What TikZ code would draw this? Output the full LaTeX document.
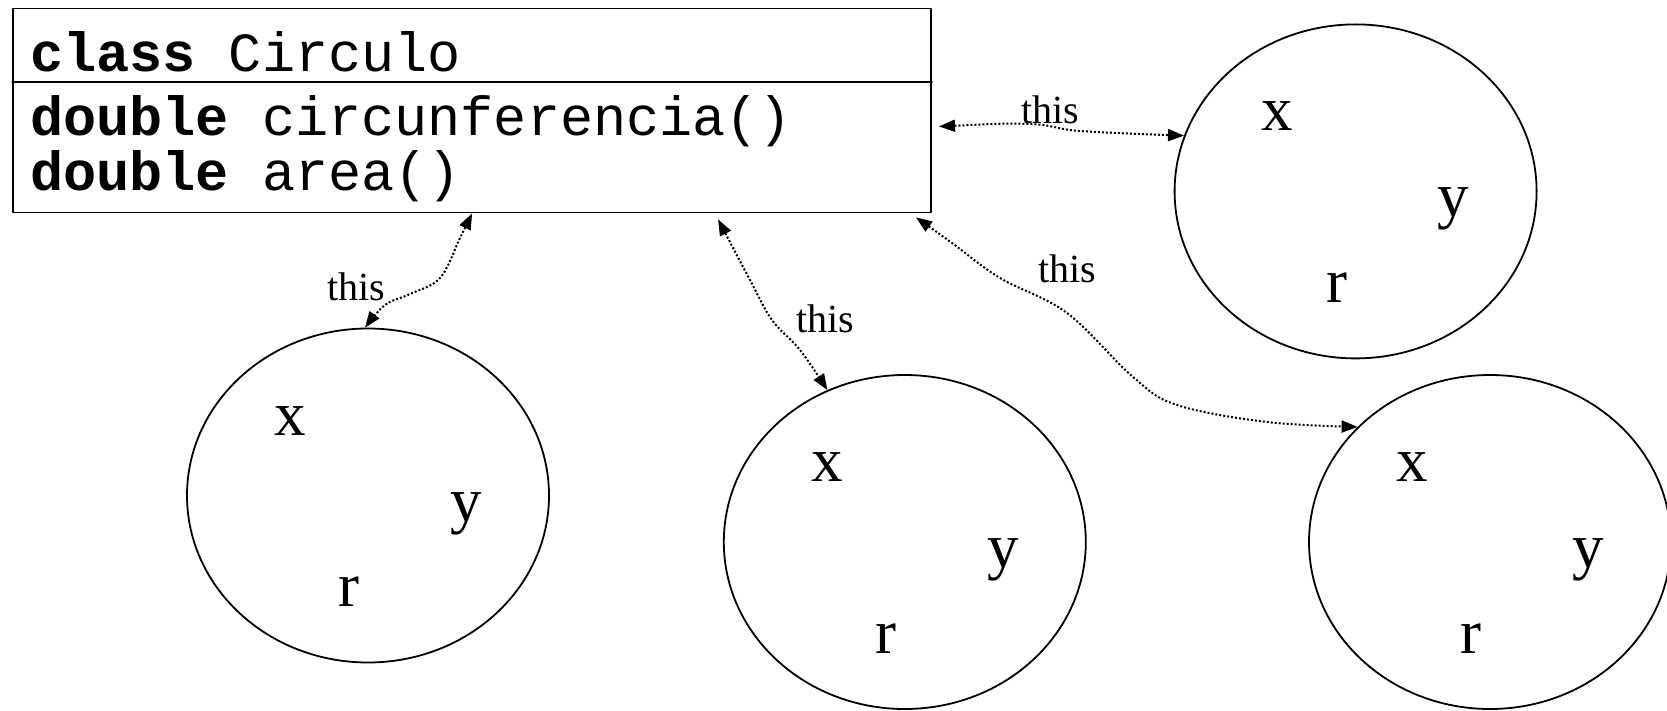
\documentclass[tikz,border=0pt]{standalone}
\usepackage{fontspec}
\setmainfont{Liberation Serif}
\setmonofont{Liberation Mono}
\usetikzlibrary{arrows.meta, shapes.geometric}

\begin{document}
\begin{tikzpicture}[x=1pt, y=-1pt, line cap=round, line join=round]
  \def\rx{181pt} % semieje horizontal de cada objeto
  \def\ry{167pt} % semieje vertical
  \tikzset{
    caja/.style={draw=black, line width=1.8pt, rectangle, inner sep=0pt, minimum width=918pt, minimum height=204pt},
    codigo/.style={font=\fontsize{55.2}{60}\selectfont\ttfamily, anchor=base west, inner sep=0pt},
    objeto/.style={draw=black, line width=1.8pt, ellipse, inner sep=0pt, minimum width=2*\rx, minimum height=2*\ry},
    campo/.style={font=\fontsize{63}{70}\selectfont, anchor=base, inner sep=0pt},
    ref/.style={line width=2pt, line cap=butt, dash pattern=on 2pt off 2pt, {Triangle[length=16pt, width=12pt]}-{Triangle[length=16pt, width=12pt]}},
    etiqueta/.style={font=\fontsize{40}{44}\selectfont, anchor=base, inner sep=0pt}
  }
  \fill[white] (0,0) rectangle (1667,711);
  \useasboundingbox (0,0) rectangle (1667,711);

  % la clase
  \node[caja] (clase) at (472.1,110.5) {};
  \draw[line width=1.8pt] ([yshift=-74.5pt]clase.north west) -- ([yshift=-74.5pt]clase.north east);
  \node[codigo] (nombre) at (30,72) {\textbf{class} Circulo};
  \node[codigo] (metodo1) at (30,136) {\textbf{double} circunferencia()};
  \node[codigo] (metodo2) at (30,191) {\textbf{double} area()};

  % los objetos
  \node[objeto] (obj1) at (1355.6,191.4) {};
  \node[objeto] (obj2) at (368,495.5) {};
  \node[objeto] (obj3) at (904.8,542) {};
  \node[objeto] (obj4) at (1490,542) {};
  \foreach \o in {1,...,4}{
    \node[campo] (x\o) at ([xshift=-78pt, yshift=60.5pt]obj\o.center) {x};
    \node[campo] (y\o) at ([xshift=98pt, yshift=-25.5pt]obj\o.center) {y};
    \node[campo] (r\o) at ([xshift=-19pt, yshift=-111pt]obj\o.center) {r};
  }

  % referencias this
  \draw[ref] plot[smooth, tension=0.6] coordinates {([xshift=7pt, yshift=-16pt]clase.east) (1030,124) (1080,131) (obj1.162)};
  \draw[ref] plot[smooth, tension=0.6] coordinates {(clase.south) (460,238) (440,278) (410,294) (385,305) (obj2.91)};
  \draw[ref] plot[smooth, tension=0.6] coordinates {([xshift=246pt, yshift=-6pt]clase.south) (750,280) (772,320) (800,350) (obj3.117)};
  \draw[ref] plot[smooth, tension=0.6] coordinates {([xshift=-16pt, yshift=-4pt]clase.south east) (952,243) (1000,278) (1067,313) (1133,377) (1177,405) (1267,422) (obj4.139)};

  \node[etiqueta] (etqA) at (1050,124) {this};
  \node[etiqueta] (etqB) at (356,300) {this};
  \node[etiqueta] (etqC) at (825,332) {this};
  \node[etiqueta] (etqD) at (1067,283) {this};
\end{tikzpicture}
\end{document}
